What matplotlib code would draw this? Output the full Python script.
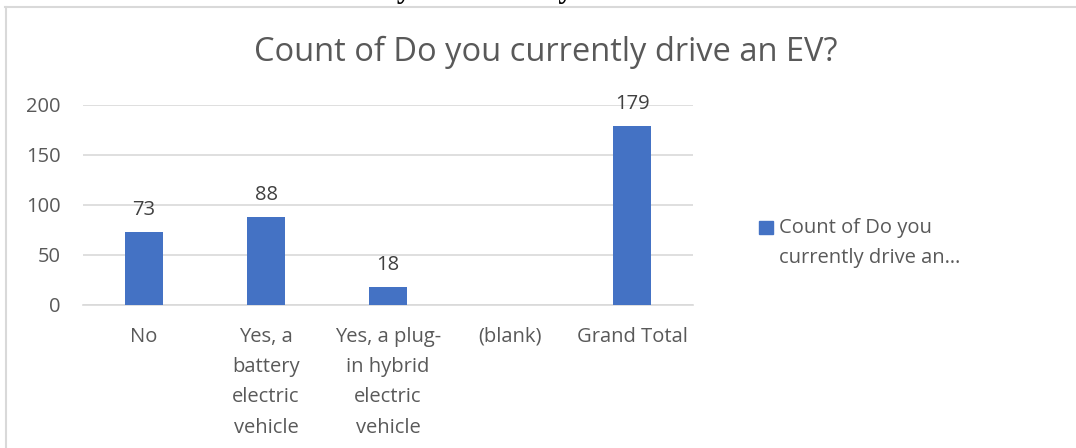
import numpy as np
import matplotlib
matplotlib.use("Agg")
import matplotlib.pyplot as plt
from matplotlib.lines import Line2D
from matplotlib.patches import Rectangle

# ---- data ----
categories = ["No", "Yes, a\nbattery\nelectric\nvehicle",
              "Yes, a plug-\nin hybrid\nelectric\nvehicle", "(blank)", "Grand Total"]
counts = [73, 88, 18, np.nan, 179]
yticks = [0, 50, 100, 150, 200]
series_name = "Count of Do you\ncurrently drive an…"
title = "Count of Do you currently drive an EV?"
page_heading = "Do you currently drive an EV?"

# ---- style ----
bar_color = "#4472C4"
grid_color = "#D9D9D9"
text_color = "#595959"
label_color = "#404040"
font = "Open Sans"
fs = 14.5

W, H = 1076, 448
fig = plt.figure(figsize=(W / 100, H / 100), dpi=100)
fig.patch.set_facecolor("white")

def fx(px):
    return px / W

def fy(py):
    return 1 - py / H

# cut-off heading above the chart frame
fig.text(fx(553), fy(-3), page_heading, family="Liberation Serif", weight="bold",
         fontsize=22, ha="center", va="baseline", color="black")

# chart frame (top and left edges visible)
fig.add_artist(Line2D([fx(5), fx(1080)], [fy(7), fy(7)], transform=fig.transFigure,
                      color=grid_color, lw=1.5))
fig.add_artist(Line2D([fx(6), fx(6)], [fy(7), fy(460)], transform=fig.transFigure,
                      color=grid_color, lw=1.5))

ax = fig.add_axes([fx(83), fy(305), fx(693) - fx(83), 200 / H])
x = np.arange(len(categories))
bars = ax.bar(x, counts, width=0.31, color=bar_color, zorder=3)

for xi, v in zip(x, counts):
    if not np.isnan(v):
        ax.annotate(f"{int(v)}", (xi, v), xytext=(0, 12.5), textcoords="offset points",
                    ha="center", va="baseline", fontsize=fs, family=font, color=label_color)

ax.set_xlim(-0.5, len(categories) - 0.5)
ax.set_ylim(0, 200)
ax.set_yticks(yticks)
ax.set_xticks(x)
ax.set_xticklabels(categories, linespacing=1.69)
ax.yaxis.grid(True, color=grid_color, lw=1.2, zorder=0)
ax.set_axisbelow(True)
for s in ["top", "right", "left"]:
    ax.spines[s].set_visible(False)
ax.spines["bottom"].set_color(grid_color)
ax.spines["bottom"].set_linewidth(1.2)
ax.tick_params(axis="both", length=0, labelsize=fs, labelcolor=text_color)
ax.tick_params(axis="y", pad=16)
ax.tick_params(axis="x", pad=15.5)
for lab in ax.get_xticklabels() + ax.get_yticklabels():
    lab.set_family(font)
for lab in ax.get_xticklabels():
    lab.set_va("top")

fig.text(fx(546), fy(52), title, family=font, fontsize=23.5, color=text_color,
         ha="center", va="center")

# legend
fig.add_artist(Rectangle((fx(759), fy(234)), fx(773) - fx(759), 13 / H,
                         transform=fig.transFigure, color=bar_color))
for i, line in enumerate(series_name.split("\n")):
    fig.text(fx(779), fy(228 + 30 * i), line, family=font, fontsize=fs,
             color=text_color, ha="left", va="center")

fig.savefig("out.png", dpi=100, facecolor="white")
